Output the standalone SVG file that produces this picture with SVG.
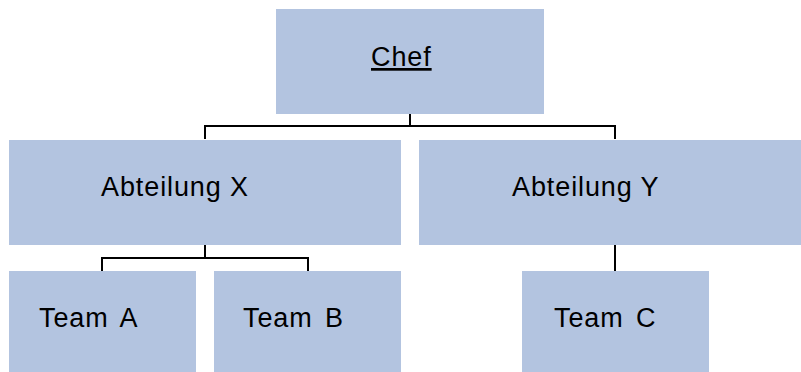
<svg xmlns="http://www.w3.org/2000/svg" width="801" height="372" viewBox="0 0 801 372">
<style>
.box{fill:#B3C4E0}
.lbl{font-family:"Liberation Sans",Arial,sans-serif;font-size:27px;letter-spacing:0.9px;fill:#000}
.team{word-spacing:4px}
.con{fill:none;stroke:#000;stroke-width:2}
</style>
<rect width="801" height="372" fill="#fff"/>
<g id="connectors">
<path class="con" d="M410 113V126M205 139V126H615V139"/>
<path class="con" d="M205 245V258M102 271V258H308V271"/>
<path class="con" d="M615 245V271"/>
</g>
<g id="chef"><rect class="box" x="276" y="9" width="268" height="105"/><text class="lbl" x="371" y="66" text-decoration="underline">Chef</text></g>
<g id="abteilung-x"><rect class="box" x="9" y="140" width="392" height="105"/><text class="lbl" x="101" y="196">Abteilung X</text></g>
<g id="abteilung-y"><rect class="box" x="419" y="140" width="392" height="105"/><text class="lbl" x="512" y="196">Abteilung Y</text></g>
<g id="team-a"><rect class="box" x="9" y="271" width="187" height="101"/><text class="lbl team" x="39" y="327">Team A</text></g>
<g id="team-b"><rect class="box" x="214" y="271" width="187" height="101"/><text class="lbl team" x="243" y="327">Team B</text></g>
<g id="team-c"><rect class="box" x="522" y="271" width="187" height="101"/><text class="lbl team" x="554" y="327">Team C</text></g>
</svg>
